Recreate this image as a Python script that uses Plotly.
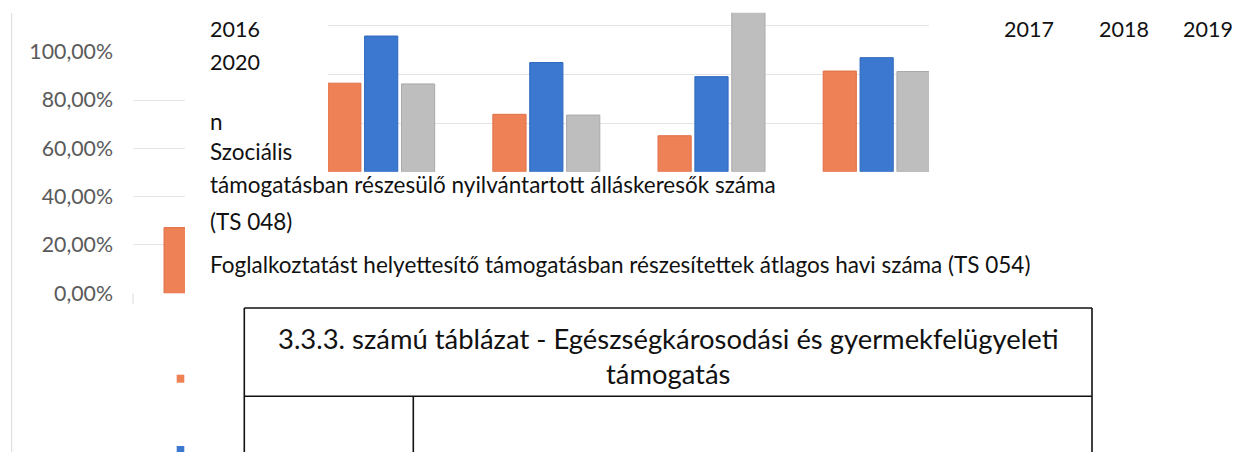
import plotly.graph_objects as go

W, H = 1240, 452
PAGE = 8   # default body margin of the html page; the figure sits 8px in from the corner

# bar chart pieces seen in the scan
groups = ["I", "II", "III", "IV"]
orange_vals = [36.4, 23.6, 14.8, 41.4]
blue_vals = [55.8, 44.9, 39.1, 46.9]
gray_vals = [36.1, 23.3, 70.0, 41.2]   # third one runs off the top of the crop
left_cat = ["I"]
left_orange = [27.2]

pct_vals = [0, 20, 40, 60, 80, 100]
pct_text = ["0,00%", "20,00%", "40,00%", "60,00%", "80,00%", "100,00%"]

years_left = ["2016", "2020"]
years_right = ["2017", "2018", "2019"]
body_lines = ["n", "Szociális",
              "támogatásban részesülő nyilvántartott álláskeresők száma",
              "(TS 048)",
              "Foglalkoztatást helyettesítő támogatásban részesítettek átlagos havi száma (TS 054)"]
table_title = ["3.3.3. számú táblázat - Egészségkárosodási és gyermekfelügyeleti", "támogatás"]

ORANGE, BLUE, GRAY = "#EE8156", "#3C78CF", "#BEBEBE"
GRID = "#E4E4E4"
FONT = "Lato"

FW, FH = W - PAGE, H - PAGE


def fx(px):
    return (px - PAGE) / FW


def fy(py):
    return 1 - (py - PAGE) / FH


fig = go.Figure()

# left crop: axis with percent labels and one cut-off bar
fig.add_trace(go.Bar(x=left_cat, y=left_orange, width=[0.2], marker_color=ORANGE,
                     marker_line=dict(color="#E07048", width=1), xaxis="x", yaxis="y"))

# right crop: four groups of three bars
for vals, col, edge in [(orange_vals, ORANGE, "#E07048"), (blue_vals, BLUE, "#2F68BC"),
                        (gray_vals, GRAY, "#A9A9A9")]:
    fig.add_trace(go.Bar(x=groups, y=vals, marker_color=col,
                         marker_line=dict(color=edge, width=1), xaxis="x2", yaxis="y2"))

fig.update_layout(
    width=FW, height=FH, margin=dict(l=0, r=0, t=0, b=0, autoexpand=False),
    paper_bgcolor="white", plot_bgcolor="rgba(0,0,0,0)",
    showlegend=False, barmode="group", bargap=0.33, bargroupgap=0.1,
    font=dict(family=FONT, color="#111111"),
    xaxis=dict(domain=[fx(133), fx(185)], range=[-0.288, 0.027], visible=False),
    yaxis=dict(domain=[fy(293.3), fy(51.7)], range=[0, 100], tickvals=pct_vals, ticktext=pct_text,
               showgrid=True, gridcolor=GRID, gridwidth=1, zeroline=False, showline=False,
               ticks="", ticklabelstandoff=19, automargin=False,
               tickfont=dict(family=FONT, size=21.3, color="#5A5A5A")),
    xaxis2=dict(domain=[fx(328), fx(929)], range=[-0.322, 3.317], visible=False, anchor="y2"),
    yaxis2=dict(domain=[fy(171.7), fy(12.7)], range=[0, 65.4], tickvals=[0, 20, 40, 60],
                showticklabels=False, showgrid=True, gridcolor=GRID, zeroline=False,
                showline=False, anchor="x2"),
)

ann = []
for t, yc in zip(years_left, [29, 61.7]):
    ann.append(dict(x=fx(208), y=fy(yc), text=t, font_size=21.5))
# the last year sits on the right edge of the page; nudged in so it stays whole
for t, xl in zip(years_right, [1002, 1097, 1181]):
    ann.append(dict(x=fx(xl), y=fy(29), text=t, font_size=21.5))
for t, yc in zip(body_lines, [121.7, 151.7, 184.5, 221, 264.5]):
    ann.append(dict(x=fx(208), y=fy(yc), text=t, font_size=22.5))
for a in ann:
    a.update(xref="paper", yref="paper", xanchor="left", yanchor="middle",
             showarrow=False, font_family=FONT, font_color="#111111")
for t, yc in zip(table_title, [338.5, 373]):
    ann.append(dict(x=fx(668), y=fy(yc), text=t, xref="paper", yref="paper",
                    xanchor="center", yanchor="middle", showarrow=False,
                    font=dict(family=FONT, size=27.4, color="#111111")))
fig.update_layout(annotations=ann)

# table frame, legend swatches, scan edge
line = dict(color="#111111", width=1.6)
shapes = [
    dict(type="line", x0=fx(244.3), x1=fx(1092), y0=fy(308), y1=fy(308), line=line),
    dict(type="line", x0=fx(244.3), x1=fx(1092), y0=fy(396.3), y1=fy(396.3), line=line),
    dict(type="line", x0=fx(244.3), x1=fx(244.3), y0=fy(308), y1=fy(H + 5), line=line),
    dict(type="line", x0=fx(1092), x1=fx(1092), y0=fy(308), y1=fy(H + 5), line=line),
    dict(type="line", x0=fx(413.3), x1=fx(413.3), y0=fy(396.3), y1=fy(H + 5), line=line),
    dict(type="rect", x0=fx(176.7), x1=fx(184.3), y0=fy(374.7), y1=fy(382.7),
         fillcolor=ORANGE, line=dict(width=0)),
    dict(type="rect", x0=fx(176.7), x1=fx(184.3), y0=fy(446), y1=fy(H + 5),
         fillcolor=BLUE, line=dict(width=0)),
    dict(type="line", x0=fx(11.7), x1=fx(11.7), y0=fy(13), y1=fy(H + 5),
         line=dict(color="#DADADA", width=1)),
    dict(type="line", x0=fx(133), x1=fx(133), y0=fy(293.3), y1=fy(304),
         line=dict(color="#DADADA", width=1)),
]
for s in shapes:
    s.update(xref="paper", yref="paper")
fig.update_layout(shapes=shapes)

fig.write_html("out.html")
